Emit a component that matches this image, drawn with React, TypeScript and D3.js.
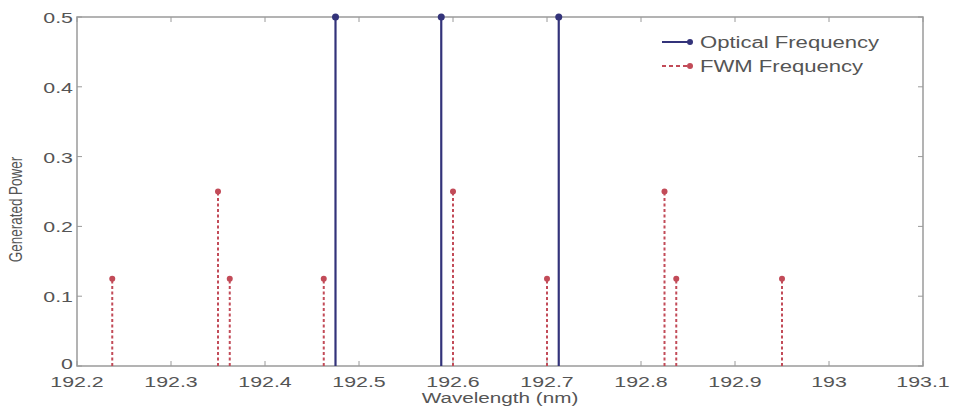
import React from "react";
import * as d3 from "d3";

const opticalFreq = [192.475, 192.5875, 192.7125];
const opticalPower = [0.5, 0.5, 0.5];
const fwmFreq = [192.2375, 192.35, 192.3625, 192.4625, 192.6, 192.7, 192.825, 192.8375, 192.95];
const fwmPower = [0.125, 0.25, 0.125, 0.125, 0.25, 0.125, 0.25, 0.125, 0.125];
const xTicks = [192.2, 192.3, 192.4, 192.5, 192.6, 192.7, 192.8, 192.9, 193, 193.1];
const yTicks = [0, 0.1, 0.2, 0.3, 0.4, 0.5];
const legendLabels = ["Optical Frequency", "FWM Frequency"];

const W = 955, H = 410;
const M = { left: 77, right: 923, top: 17, bottom: 366 };
const SX = 1.38;
const FONT = "Liberation Sans, Arial, sans-serif";
const TXT = "#555";
const AX = "#9a9a9a";
const BLUE = "#33337a";
const RED = "#c24b58";

function StretchText({ x, y, children, anchor = "middle", size = 15.5, color = TXT }: any) {
  return (
    <text
      transform={`translate(${x},${y}) scale(${SX},1)`}
      textAnchor={anchor}
      fontFamily={FONT}
      fontSize={size}
      fill={color}
    >
      {children}
    </text>
  );
}

export default function App() {
  const x = d3.scaleLinear().domain([192.2, 193.1]).range([M.left, M.right]);
  const y = d3.scaleLinear().domain([0, 0.5]).range([M.bottom, M.top]);
  const fmtX = (v: number) => d3.format("")(+v.toFixed(1));
  const fmtY = (v: number) => (v === 0 ? "0" : v.toFixed(1));

  return (
    <svg width={W} height={H} style={{ position: "fixed", left: 0, top: 0, background: "#fff" }}>
      <rect x={0} y={0} width={W} height={H} fill="#fff" />
      {/* frame */}
      <rect x={M.left} y={M.top} width={M.right - M.left} height={M.bottom - M.top} fill="none" stroke={AX} strokeWidth={1.5} />
      {/* x ticks */}
      {xTicks.map((t, i) => (
        <g key={"xt" + i}>
          <line x1={x(t)} x2={x(t)} y1={M.bottom} y2={M.bottom - 5} stroke={AX} strokeWidth={1} />
          <line x1={x(t)} x2={x(t)} y1={M.top} y2={M.top + 5} stroke={AX} strokeWidth={1} />
          <StretchText x={x(t)} y={M.bottom + 21}>{fmtX(t)}</StretchText>
        </g>
      ))}
      {/* y ticks */}
      {yTicks.map((t, i) => (
        <g key={"yt" + i}>
          <line x1={M.left} x2={M.left + 5} y1={y(t)} y2={y(t)} stroke={AX} strokeWidth={1} />
          <line x1={M.right} x2={M.right - 5} y1={y(t)} y2={y(t)} stroke={AX} strokeWidth={1} />
          <StretchText x={M.left - 4} y={y(t) + (t === 0 ? 3 : 6)} anchor="end">{fmtY(t)}</StretchText>
        </g>
      ))}
      {/* axis titles */}
      <StretchText x={(M.left + M.right) / 2} y={403} size={15}>Wavelength (nm)</StretchText>
      <text
        transform={`translate(22,${(M.top + M.bottom) / 2 + 18}) scale(1.3,1) rotate(-90)`}
        textAnchor="middle"
        fontFamily={FONT}
        fontSize={13.5}
        fill={TXT}
      >
        Generated Power
      </text>
      {/* FWM stems */}
      {fwmFreq.map((f, i) => (
        <g key={"f" + i}>
          <line x1={x(f)} x2={x(f)} y1={y(0)} y2={y(fwmPower[i])} stroke={RED} strokeWidth={2} strokeDasharray="3,2.5" />
          <circle cx={x(f)} cy={y(fwmPower[i])} r={3} fill={RED} />
        </g>
      ))}
      {/* optical stems */}
      {opticalFreq.map((f, i) => (
        <g key={"o" + i}>
          <line x1={x(f)} x2={x(f)} y1={y(0)} y2={y(opticalPower[i])} stroke={BLUE} strokeWidth={2.2} />
          <circle cx={x(f)} cy={y(opticalPower[i])} r={3.5} fill={BLUE} />
        </g>
      ))}
      {/* legend */}
      {legendLabels.map((lab, i) => {
        const ly = 42 + i * 24;
        const col = i === 0 ? BLUE : RED;
        return (
          <g key={"l" + i}>
            <line x1={662} x2={690} y1={ly} y2={ly} stroke={col} strokeWidth={2} strokeDasharray={i === 0 ? undefined : "4,3"} />
            <circle cx={690} cy={ly} r={3} fill={col} />
            <StretchText x={700} y={ly + 6} anchor="start" size={16}>{lab}</StretchText>
          </g>
        );
      })}
    </svg>
  );
}
